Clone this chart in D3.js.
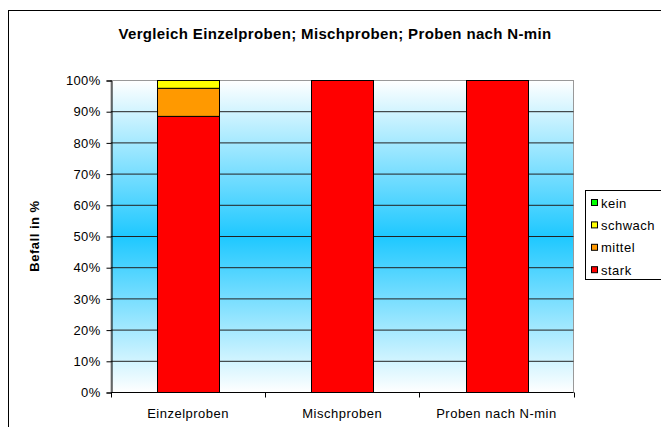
<!DOCTYPE html>
<html>
<head>
<meta charset="utf-8">
<script src="https://cdn.jsdelivr.net/npm/d3@7"></script>
<style>
  body { margin: 0; background: #fff; }
  text { font-family: "Liberation Sans", Arial, sans-serif; fill: #000; letter-spacing: 0.3px; }
</style>
</head>
<body>
<svg id="chart" width="661" height="427"></svg>
<script>
const categories = ["Einzelproben", "Mischproben", "Proben nach N-min"];
const seriesNames = ["stark", "mittel", "schwach", "kein"];
const stark = [88.5, 100, 100];
const mittel = [9.0, 0, 0];
const schwach = [2.5, 0, 0];
const kein = [0, 0, 0];
const yTicks = [0, 10, 20, 30, 40, 50, 60, 70, 80, 90, 100];
const colors = {stark: "#ff0000", mittel: "#ff9900", schwach: "#ffff00", kein: "#00ff00"};

const table = categories.map((c, i) => ({
    cat: c, stark: stark[i], mittel: mittel[i], schwach: schwach[i], kein: kein[i]
}));

const svg = d3.select("#chart");
const plotLeft = 111, plotRight = 573.5, plotTop = 80.5, plotBottom = 392.5;

// outer chart frame
svg.append("rect")
    .attr("x", 8.5).attr("y", 10.5)
    .attr("width", 700).attr("height", 440)
    .attr("fill", "#fff").attr("stroke", "#000");

svg.append("text")
    .attr("x", 335).attr("y", 39)
    .attr("text-anchor", "middle")
    .attr("font-size", "15px").attr("font-weight", "bold")
    .style("letter-spacing", "0.35px")
    .text("Vergleich Einzelproben; Mischproben; Proben nach N-min");

const x = d3.scaleBand().domain(categories).range([plotLeft, plotRight])
    .paddingInner(0.6).paddingOuter(0.3);
const y = d3.scaleLinear().domain([0, 100]).range([plotBottom, plotTop]);

// background gradient
const grad = svg.append("defs").append("linearGradient")
    .attr("id", "bg").attr("x1", 0).attr("x2", 0).attr("y1", 0).attr("y2", 1);
grad.append("stop").attr("offset", "0%").attr("stop-color", "#ffffff");
grad.append("stop").attr("offset", "50%").attr("stop-color", "#1ec8ff");
grad.append("stop").attr("offset", "100%").attr("stop-color", "#ffffff");

svg.append("rect")
    .attr("x", plotLeft).attr("y", plotTop)
    .attr("width", plotRight - plotLeft).attr("height", plotBottom - plotTop)
    .attr("fill", "url(#bg)").attr("stroke", "#999");

// gridlines
svg.append("g")
    .selectAll("line")
    .data(yTicks.filter(d => d > 0 && d < 100))
    .join("line")
    .attr("x1", plotLeft).attr("x2", plotRight)
    .attr("y1", d => y(d)).attr("y2", d => y(d))
    .attr("stroke", "#222");

// stacked bars
const stack = d3.stack().keys(seriesNames)(table);
svg.append("g")
    .selectAll("g")
    .data(stack)
    .join("g")
    .attr("fill", d => colors[d.key])
    .selectAll("rect")
    .data(d => d.filter(p => p[1] - p[0] > 0))
    .join("rect")
    .attr("x", d => Math.round(x(d.data.cat)) + 0.5)
    .attr("width", Math.round(x.bandwidth()))
    .attr("y", d => y(d[1]))
    .attr("height", d => y(d[0]) - y(d[1]))
    .attr("stroke", "#000");

// y axis
const yAxis = svg.append("g")
    .attr("transform", `translate(${plotLeft + 0.5},0)`)
    .call(d3.axisLeft(y).tickValues(yTicks).tickFormat(d => d + "%").tickSize(5).tickPadding(6));
yAxis.select(".domain").attr("stroke", "#000");
yAxis.selectAll("text").attr("font-size", "13px").attr("font-family", null);

// x axis
const edges = categories.map(c => x(c) - x.step() * x.paddingInner() / 2).concat([plotRight]);
const xg = svg.append("g");
xg.append("line")
    .attr("x1", plotLeft).attr("x2", plotRight)
    .attr("y1", plotBottom).attr("y2", plotBottom)
    .attr("stroke", "#000");
xg.selectAll(".tk")
    .data(edges)
    .join("line")
    .attr("x1", d => Math.round(d) + 0.5).attr("x2", d => Math.round(d) + 0.5)
    .attr("y1", plotBottom).attr("y2", plotBottom + 5)
    .attr("stroke", "#000");
xg.selectAll("text")
    .data(categories)
    .join("text")
    .attr("x", d => x(d) + x.bandwidth() / 2)
    .attr("y", 418)
    .attr("text-anchor", "middle")
    .attr("font-size", "13px")
    .style("letter-spacing", "0.5px")
    .text(d => d);

// y axis title
svg.append("text")
    .attr("transform", "translate(39,236) rotate(-90)")
    .attr("text-anchor", "middle")
    .attr("font-size", "13px").attr("font-weight", "bold")
    .style("letter-spacing", "0.5px")
    .text("Befall in %");

// legend
const legend = svg.append("g");
legend.append("rect")
    .attr("x", 585.5).attr("y", 190.5)
    .attr("width", 100).attr("height", 89)
    .attr("fill", "#fff").attr("stroke", "#000");
const items = legend.selectAll("g")
    .data(seriesNames.slice().reverse())
    .join("g")
    .attr("transform", (d, i) => `translate(591,${203 + i * 22.4})`);
items.append("rect")
    .attr("x", 0.5).attr("y", -3.5)
    .attr("width", 6).attr("height", 6)
    .attr("fill", d => colors[d]).attr("stroke", "#000");
items.append("text")
    .attr("x", 10).attr("y", 4.5)
    .attr("font-size", "13px")
    .style("letter-spacing", "0.5px")
    .text(d => d);
</script>
</body>
</html>
